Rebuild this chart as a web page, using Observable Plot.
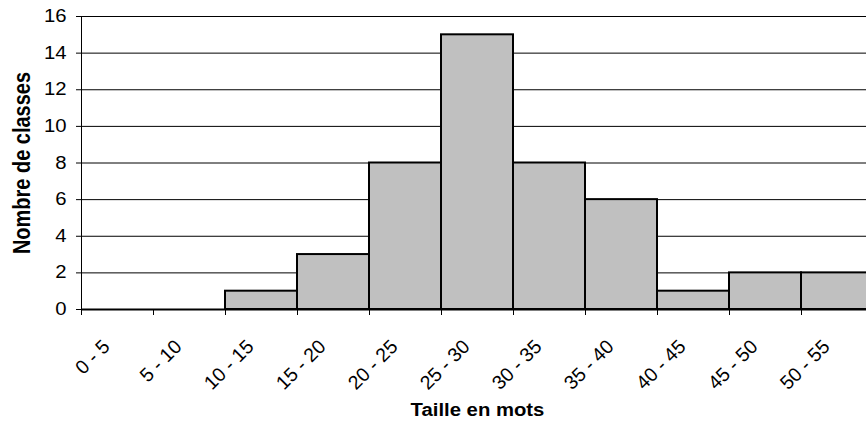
<!DOCTYPE html>
<html>
<head>
<meta charset="utf-8">
<script src="https://cdn.jsdelivr.net/npm/d3@7"></script>
<script src="https://cdn.jsdelivr.net/npm/@observablehq/plot@0.6"></script>
<style>
  html, body { margin: 0; padding: 0; background: white; overflow: hidden; }
  #chart svg { display: block; }
</style>
</head>
<body>
<div id="chart"></div>
<script>
// Data
const categories = ["0 - 5", "5 - 10", "10 - 15", "15 - 20", "20 - 25", "25 - 30", "30 - 35", "35 - 40", "40 - 45", "45 - 50", "50 - 55"];
const binStarts = [0, 5, 10, 15, 20, 25, 30, 35, 40, 45, 50];
const binEnds = [5, 10, 15, 20, 25, 30, 35, 40, 45, 50, 55];
const counts = [0, 0, 1, 3, 8, 15, 8, 6, 1, 2, 2];
const yTicks = [0, 2, 4, 6, 8, 10, 12, 14, 16];
const xTitle = "Taille en mots";
const yTitle = "Nombre de classes";

const rows = categories.map((c, i) => ({label: c, x1: binStarts[i], x2: binEnds[i], mid: (binStarts[i] + binEnds[i]) / 2, count: counts[i]}));
const edges = [...binStarts, binEnds[binEnds.length - 1]];
const font = "'Liberation Sans', Arial, sans-serif";

const W = 866, H = 426;
const mL = 81, mT = 16, mB = 117;
const textStretch = 1.16; // the reference's upright lettering is horizontally widened

const chart = Plot.plot({
  width: W,
  height: H,
  marginLeft: mL,
  marginTop: mT,
  marginBottom: mB,
  marginRight: 0,
  style: {fontFamily: font, background: "white", color: "black"},
  x: {type: "linear", domain: [0, 55], range: [mL, 873]},
  y: {domain: [0, 16]},
  marks: [
    Plot.ruleY(yTicks.filter(d => d > 0), {x1: 0, x2: 55, stroke: "black", strokeWidth: 1}),
    Plot.rectY(rows, {x1: "x1", x2: "x2", y1: 0, y2: "count", fill: "#c0c0c0", stroke: "black", strokeWidth: 2}),
    Plot.ruleY([0], {x1: 0, x2: 55, stroke: "black", strokeWidth: 2}),
    Plot.ruleX([0], {y1: 0, y2: 16, stroke: "black", strokeWidth: 1}),
    Plot.axisY({ticks: yTicks, tickSize: 5, tickPadding: 10, fontSize: 17.5, stroke: "black", strokeOpacity: 1, fill: "black", label: null, tickFormat: d => String(d)}),
    Plot.axisX({ticks: edges, tickSize: 6, tickFormat: () => "", stroke: "black", strokeOpacity: 1, label: null}),
    Plot.text(rows, {x: "mid", y: 0, text: "label", rotate: -45, textAnchor: "end", dx: -11, dy: 34, fontSize: 19.5, fill: "black"}),
    Plot.text([yTitle], {frameAnchor: "left", dx: -59, rotate: -90, textAnchor: "middle", fontSize: 20, fontWeight: "bold", fill: "black"}),
    Plot.text([xTitle], {x: 27.5, y: 0, dy: 101, textAnchor: "middle", fontSize: 17.5, fontWeight: "bold", fill: "black"})
  ]
});

// widen upright lettering horizontally around each text's anchor point
d3.select(chart).selectAll("text").each(function () {
  const t = this;
  const tr = t.getAttribute("transform") || "";
  if (/rotate\(\s*-45/.test(tr)) return; // diagonal labels are left as drawn
  const m = tr.match(/^\s*(translate\([^)]*\))?\s*(.*)$/);
  const lead = m[1] || "";
  const rest = m[2] || "";
  let extra = "";
  if (!lead && !rest) {
    const x = parseFloat(t.getAttribute("x")) || 0;
    t.removeAttribute("x");
    extra = `translate(${x},0)`;
  }
  t.setAttribute("transform", `${lead} ${extra} scale(${textStretch},1) ${rest}`.trim());
});

document.getElementById("chart").appendChild(chart);
</script>
</body>
</html>
